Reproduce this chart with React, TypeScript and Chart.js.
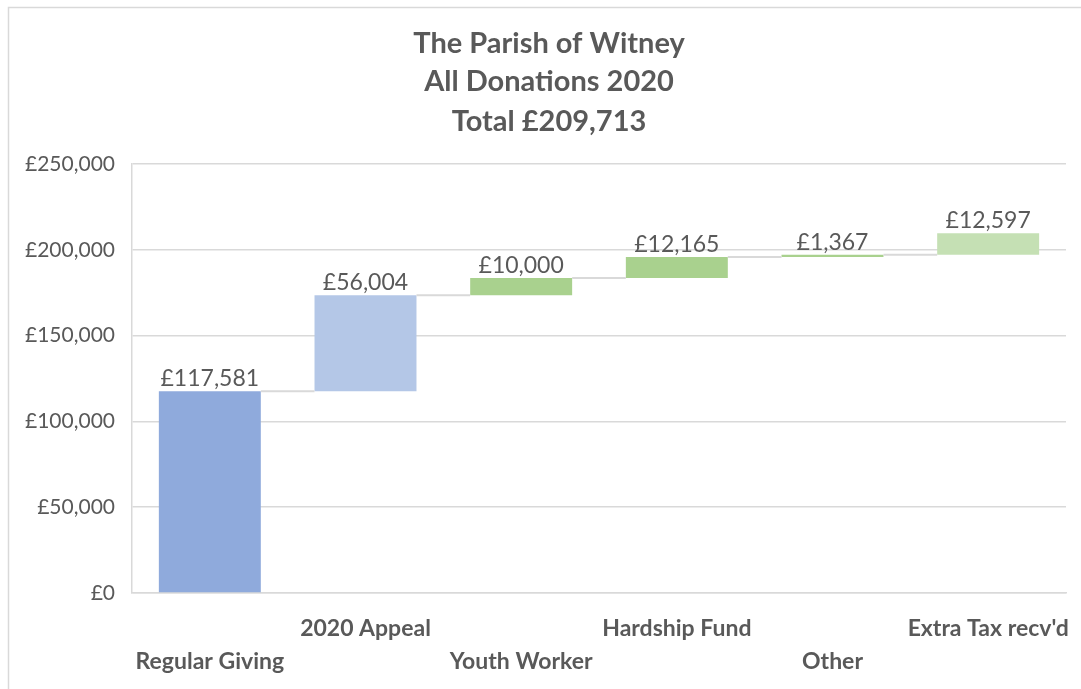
import React, { useEffect, useRef } from "react";
import { Chart, registerables } from "chart.js";

Chart.register(...registerables);

const titleLines = ["The Parish of Witney", "All Donations 2020", "Total £209,713"];
const categories = ["Regular Giving", "2020 Appeal", "Youth Worker", "Hardship Fund", "Other", "Extra Tax recv'd"];
const increments = [117581, 56004, 10000, 12165, 1367, 12597];
const valueLabels = ["£117,581", "£56,004", "£10,000", "£12,165", "£1,367", "£12,597"];
const barColors = ["#8FAADC", "#B4C7E7", "#A9D18E", "#A9D18E", "#A9D18E", "#C5E0B4"];
const yTicks = [0, 50000, 100000, 150000, 200000, 250000];

const FONT = "Lato, 'Open Sans', sans-serif";
const TEXT = "#595959";
const GRID = "#D9D9D9";

export default function App() {
  const ref = useRef<HTMLCanvasElement | null>(null);

  useEffect(() => {
    const canvas = ref.current;
    if (!canvas) return;

    const floating: [number, number][] = [];
    let run = 0;
    increments.forEach((v) => {
      floating.push([run, run + v]);
      run += v;
    });

    const xLabels = categories.map((c, i) => (i % 2 === 0 ? ["", c] : [c]));

    const framePlugin = {
      id: "frame",
      beforeDraw(chart: any) {
        const ctx = chart.ctx;
        ctx.save();
        ctx.fillStyle = "#ffffff";
        ctx.fillRect(0, 0, chart.width, chart.height);
        ctx.strokeStyle = GRID;
        ctx.lineWidth = 1.5;
        ctx.strokeRect(8.5, 7.5, chart.width + 20, chart.height + 20);
        ctx.restore();
      },
    };

    const titlePlugin = {
      id: "titleLines",
      afterDraw(chart: any) {
        const ctx = chart.ctx;
        ctx.save();
        ctx.fillStyle = TEXT;
        ctx.font = `bold 29px ${FONT}`;
        ctx.textAlign = "center";
        ctx.textBaseline = "middle";
        const ys = [44, 82, 122];
        titleLines.forEach((t, i) => ctx.fillText(t, 549, ys[i]));
        ctx.restore();
      },
    };

    const waterfallPlugin = {
      id: "waterfall",
      afterDatasetsDraw(chart: any) {
        const ctx = chart.ctx;
        const meta = chart.getDatasetMeta(0);
        const y = chart.scales.y;
        ctx.save();
        ctx.strokeStyle = GRID;
        ctx.lineWidth = 2;
        for (let i = 0; i < meta.data.length - 1; i++) {
          const a = meta.data[i] as any;
          const b = meta.data[i + 1] as any;
          const yy = y.getPixelForValue(floating[i][1]);
          ctx.beginPath();
          ctx.moveTo(a.x + a.width / 2, yy);
          ctx.lineTo(b.x - b.width / 2, yy);
          ctx.stroke();
        }
        ctx.fillStyle = TEXT;
        ctx.font = `23px ${FONT}`;
        ctx.textAlign = "center";
        ctx.textBaseline = "bottom";
        meta.data.forEach((el: any, i: number) => {
          const top = y.getPixelForValue(floating[i][1]);
          ctx.fillText(valueLabels[i], el.x, top - 1);
        });
        ctx.restore();
      },
    };

    const chart = new Chart(canvas, {
      type: "bar",
      data: {
        labels: xLabels,
        datasets: [
          {
            data: floating as any,
            backgroundColor: barColors,
            borderWidth: 0,
            categoryPercentage: 1,
            barPercentage: 0.655,
          },
        ],
      },
      options: {
        responsive: false,
        animation: false,
        layout: { padding: { top: 164, right: 15, bottom: 0, left: 0 } },
        plugins: {
          legend: { display: false },
          title: { display: false },
          tooltip: { enabled: false },
        },
        scales: {
          x: {
            grid: { display: false, drawTicks: false },
            border: { display: true, color: GRID, width: 1.5 },
            ticks: {
              autoSkip: false,
              maxRotation: 0,
              minRotation: 0,
              padding: 19,
              color: TEXT,
              font: { family: FONT, size: 23, weight: "bold", lineHeight: "33px" } as any,
            },
            afterFit(scale: any) {
              scale.height = 96;
              scale.paddingLeft = 0;
              scale.paddingRight = 0;
            },
          },
          y: {
            min: 0,
            max: 250000,
            afterBuildTicks(scale: any) {
              scale.ticks = yTicks.map((v) => ({ value: v }));
            },
            grid: { color: GRID, lineWidth: 1.5, drawTicks: false },
            border: { display: true, color: GRID, width: 1.5 },
            ticks: {
              padding: 17,
              color: TEXT,
              font: { family: FONT, size: 21 },
              callback: (v: any) => "£" + Number(v).toLocaleString("en-GB"),
            },
            afterFit(scale: any) {
              scale.width = 132;
              scale.paddingTop = 0;
              scale.paddingBottom = 0;
            },
          },
        },
      },
      plugins: [framePlugin, waterfallPlugin, titlePlugin],
    });

    return () => chart.destroy();
  }, []);

  return (
    <div style={{ position: "absolute", left: 0, top: 0, width: 1081, height: 689 }}>
      <canvas ref={ref} width={1081} height={689} style={{ display: "block" }} />
    </div>
  );
}
